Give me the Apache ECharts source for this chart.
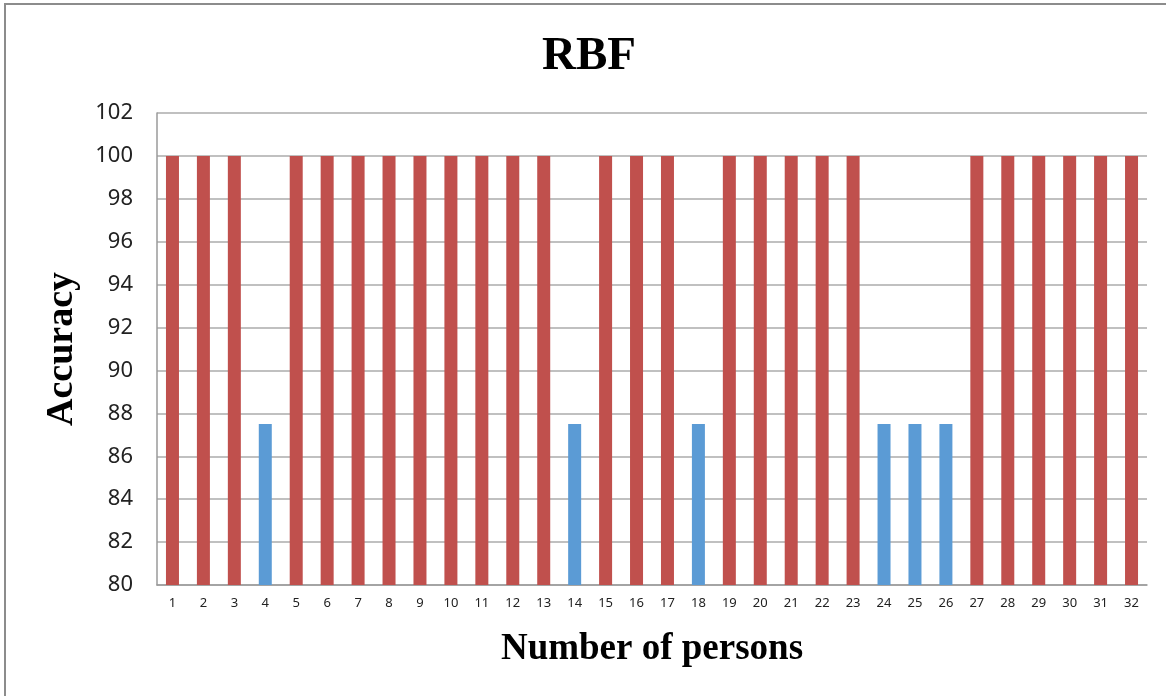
<!DOCTYPE html>
<html>
<head>
<meta charset="utf-8">
<title>RBF</title>
<script src="https://cdn.jsdelivr.net/npm/echarts@6/dist/echarts.min.js"></script>
<style>
  html, body { margin: 0; padding: 0; background: #fff; }
  #chart { width: 1166px; height: 696px; }
</style>
</head>
<body>
<div id="chart"></div>
<script>
// Persons 1..32 and the RBF accuracy (%) for each
const persons = ['1','2','3','4','5','6','7','8','9','10','11','12','13','14','15','16',
                 '17','18','19','20','21','22','23','24','25','26','27','28','29','30','31','32'];
const accuracy = [100,100,100,87.5,100,100,100,100,100,100,100,100,100,87.5,100,100,
                  100,87.5,100,100,100,100,100,87.5,87.5,87.5,100,100,100,100,100,100];
const yTicks = [80,82,84,86,88,90,92,94,96,98,100,102];

const fullColor = '#C0504D';
const partialColor = '#5B9BD5';

const chart = echarts.init(document.getElementById('chart'));
chart.setOption({
  animation: false,
  backgroundColor: '#fff',
  graphic: [{
    type: 'rect',
    shape: { x: 5, y: 4, width: 1200, height: 740 },
    style: { fill: 'none', stroke: '#8c8c8c', lineWidth: 2 },
    silent: true,
    z: -1
  }],
  title: {
    text: 'RBF',
    left: 537,
    top: 28,
    textStyle: { fontFamily: 'Liberation Serif', fontWeight: 'bold', fontSize: 47, color: '#000' }
  },
  grid: { left: 157, top: 113, right: 19, bottom: 111, containLabel: false },
  xAxis: {
    type: 'category',
    data: persons,
    name: 'Number of persons',
    nameLocation: 'middle',
    nameGap: 46,
    nameTextStyle: { fontFamily: 'Liberation Serif', fontWeight: 'bold', fontSize: 37, color: '#000' },
    axisLine: { lineStyle: { color: '#9a9a9a', width: 1.5 } },
    axisTick: { show: false },
    axisLabel: { fontFamily: 'Noto Sans', fontSize: 13, color: '#222', margin: 12, interval: 0 }
  },
  yAxis: {
    type: 'value',
    min: yTicks[0],
    max: yTicks[yTicks.length - 1],
    interval: 2,
    name: 'Accuracy',
    nameLocation: 'middle',
    nameGap: 76,
    nameRotate: 90,
    nameTextStyle: { fontFamily: 'Liberation Serif', fontWeight: 'bold', fontSize: 38, color: '#000' },
    axisLine: { show: true, lineStyle: { color: '#9a9a9a', width: 1.5 } },
    axisTick: { show: false },
    axisLabel: { fontFamily: 'Noto Sans', fontSize: 22, color: '#222', margin: 24 },
    splitLine: { lineStyle: { color: '#ababab', width: 1.5 } }
  },
  series: [{
    type: 'bar',
    barWidth: 13,
    data: accuracy.map(v => ({
      value: v,
      itemStyle: { color: v === 100 ? fullColor : partialColor }
    }))
  }]
});
</script>
</body>
</html>
